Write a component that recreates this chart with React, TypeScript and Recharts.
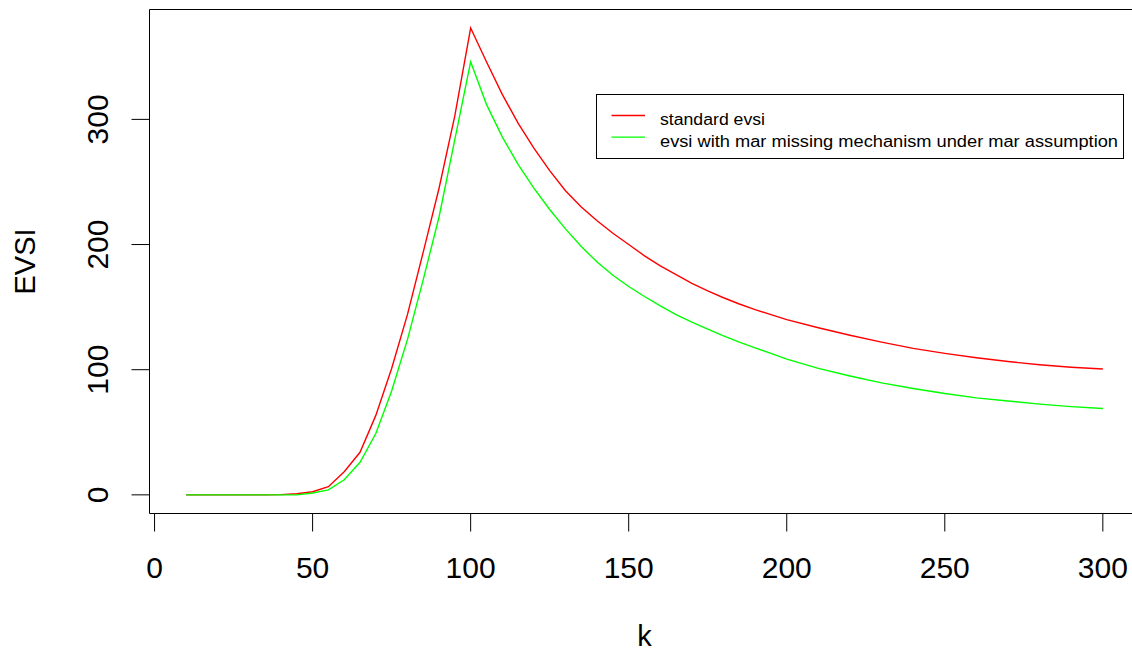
import React from "react";
import { LineChart, Line, XAxis, YAxis, ReferenceArea, Legend } from "recharts";

// sample sizes k
const kValues = [
  10, 15, 20, 25, 30, 35, 40, 45, 50, 55, 60, 65, 70, 75, 80, 85, 90, 95, 100,
  105, 110, 115, 120, 125, 130, 135, 140, 145, 150, 155, 160, 165, 170, 175,
  180, 185, 190, 195, 200, 210, 220, 230, 240, 250, 260, 270, 280, 290, 300,
];

// standard evsi (red)
const standardEvsi = [
  0, 0, 0, 0, 0, 0, 0.2, 0.9, 2.5, 6.5, 18.5, 34, 63.5, 101, 144, 194, 245,
  303, 373, 346, 320, 297, 277, 259, 243, 230, 219, 209, 200, 191, 183, 176,
  169, 163, 157.5, 152.5, 148, 144, 140, 133.5, 127.5, 122, 117, 113, 109.5,
  106.5, 104, 102, 100.5,
];

// evsi with mar missing mechanism (green)
const marEvsi = [
  0, 0, 0, 0, 0, 0, 0, 0, 1.5, 4, 12, 26, 49, 83, 124, 172, 222, 284, 346,
  312, 286, 264, 245, 228, 212.5, 198.5, 186, 175.5, 166.5, 158.5, 151, 144,
  138, 132.5, 127, 122, 117.5, 113, 108.5, 101, 95, 89.5, 85, 81, 77.5, 75,
  72.5, 70.5, 69,
];

const seriesNames = [
  "standard evsi",
  "evsi with mar missing mechanism under mar assumption",
];
const seriesColors = ["#FF0000", "#00FF00"];

const xTicks = [0, 50, 100, 150, 200, 250, 300];
const yTicks = [0, 100, 200, 300];

const data = kValues.map((k, i) => ({
  k,
  standard: standardEvsi[i],
  mar: marEvsi[i],
}));

const FONT = "'Liberation Sans', Arial, sans-serif";

function XTick(props: any) {
  const { x, y, payload } = props;
  return (
    <text x={x} y={y} textAnchor="middle" fontSize={30} fill="#000" fontFamily={FONT}>
      {payload.value}
    </text>
  );
}

function YTick(props: any) {
  const { x, y, payload } = props;
  return (
    <text
      x={x}
      y={y}
      transform={`rotate(-90 ${x} ${y})`}
      textAnchor="middle"
      fontSize={30}
      fill="#000"
      fontFamily={FONT}
    >
      {payload.value}
    </text>
  );
}

function LegendBox() {
  const widths = [105, 458];
  return (
    <svg width={529} height={66} style={{ display: "block" }}>
      <rect x={0.5} y={0.5} width={527} height={64} fill="#fff" stroke="#000" />
      {seriesNames.map((name, i) => (
        <g key={name}>
          <line
            x1={15.5}
            x2={49}
            y1={21.5 + i * 21.6}
            y2={21.5 + i * 21.6}
            stroke={seriesColors[i]}
            strokeWidth={1.4}
          />
          <text
            x={64}
            y={31 + i * 21.6}
            fontSize={16}
            fill="#000"
            fontFamily={FONT}
            textLength={widths[i]}
            lengthAdjust="spacingAndGlyphs"
          >
            {name}
          </text>
        </g>
      ))}
    </svg>
  );
}

export default function App() {
  return (
    <div style={{ width: 1132, height: 653, overflow: "hidden", position: "relative", background: "#fff" }}>
      <style>{`body{margin:0;overflow:hidden;background:#fff}`}</style>
      <LineChart
        width={1160}
        height={653}
        data={data}
        margin={{ top: 9.5, right: 20.5, bottom: 79.5, left: 49.5 }}
        style={{ fontFamily: FONT }}
      >
        <XAxis
          dataKey="k"
          type="number"
          domain={[-1.6, 311.6]}
          ticks={xTicks}
          interval={0}
          allowDataOverflow
          axisLine={false}
          tickLine={{ stroke: "#000" }}
          tickSize={18}
          tickMargin={46}
          tick={<XTick />}
          height={60}
          label={(props: any) => {
            const vb = props.viewBox || {};
            const cx = (vb.x ?? 149.5) + (vb.width ?? 990) / 2;
            const by = (vb.y ?? 513.5) + 132.5;
            return (
              <text x={cx} y={by} textAnchor="middle" fontSize={29} fill="#000" fontFamily={FONT}>
                k
              </text>
            );
          }}
        />
        <YAxis
          type="number"
          domain={[-14.9, 387.8]}
          ticks={yTicks}
          interval={0}
          allowDataOverflow
          axisLine={false}
          tickLine={{ stroke: "#000" }}
          tickSize={18}
          tickMargin={23}
          tick={<YTick />}
          width={100}
          label={(props: any) => {
            const vb = props.viewBox || {};
            const cy = (vb.y ?? 9.5) + (vb.height ?? 504) / 2;
            const bx = 35;
            return (
              <text
                x={bx}
                y={cy}
                transform={`rotate(-90 ${bx} ${cy})`}
                textAnchor="middle"
                fontSize={29}
                fill="#000"
                fontFamily={FONT}
              >
                EVSI
              </text>
            );
          }}
        />
        <ReferenceArea
          x1={-1.6}
          x2={311.6}
          y1={-14.9}
          y2={387.8}
          fill="none"
          stroke="#000"
          strokeWidth={1}
          ifOverflow="visible"
        />
        <Line
          type="linear"
          dataKey="standard"
          name={seriesNames[0]}
          stroke={seriesColors[0]}
          strokeWidth={1.4}
          dot={false}
          isAnimationActive={false}
        />
        <Line
          type="linear"
          dataKey="mar"
          name={seriesNames[1]}
          stroke={seriesColors[1]}
          strokeWidth={1.4}
          dot={false}
          isAnimationActive={false}
        />
        <Legend
          layout="vertical"
          align="center"
          verticalAlign="middle"
          wrapperStyle={{ left: 596, top: 94, width: 529, height: 66 }}
          content={() => <LegendBox />}
        />
      </LineChart>
    </div>
  );
}
